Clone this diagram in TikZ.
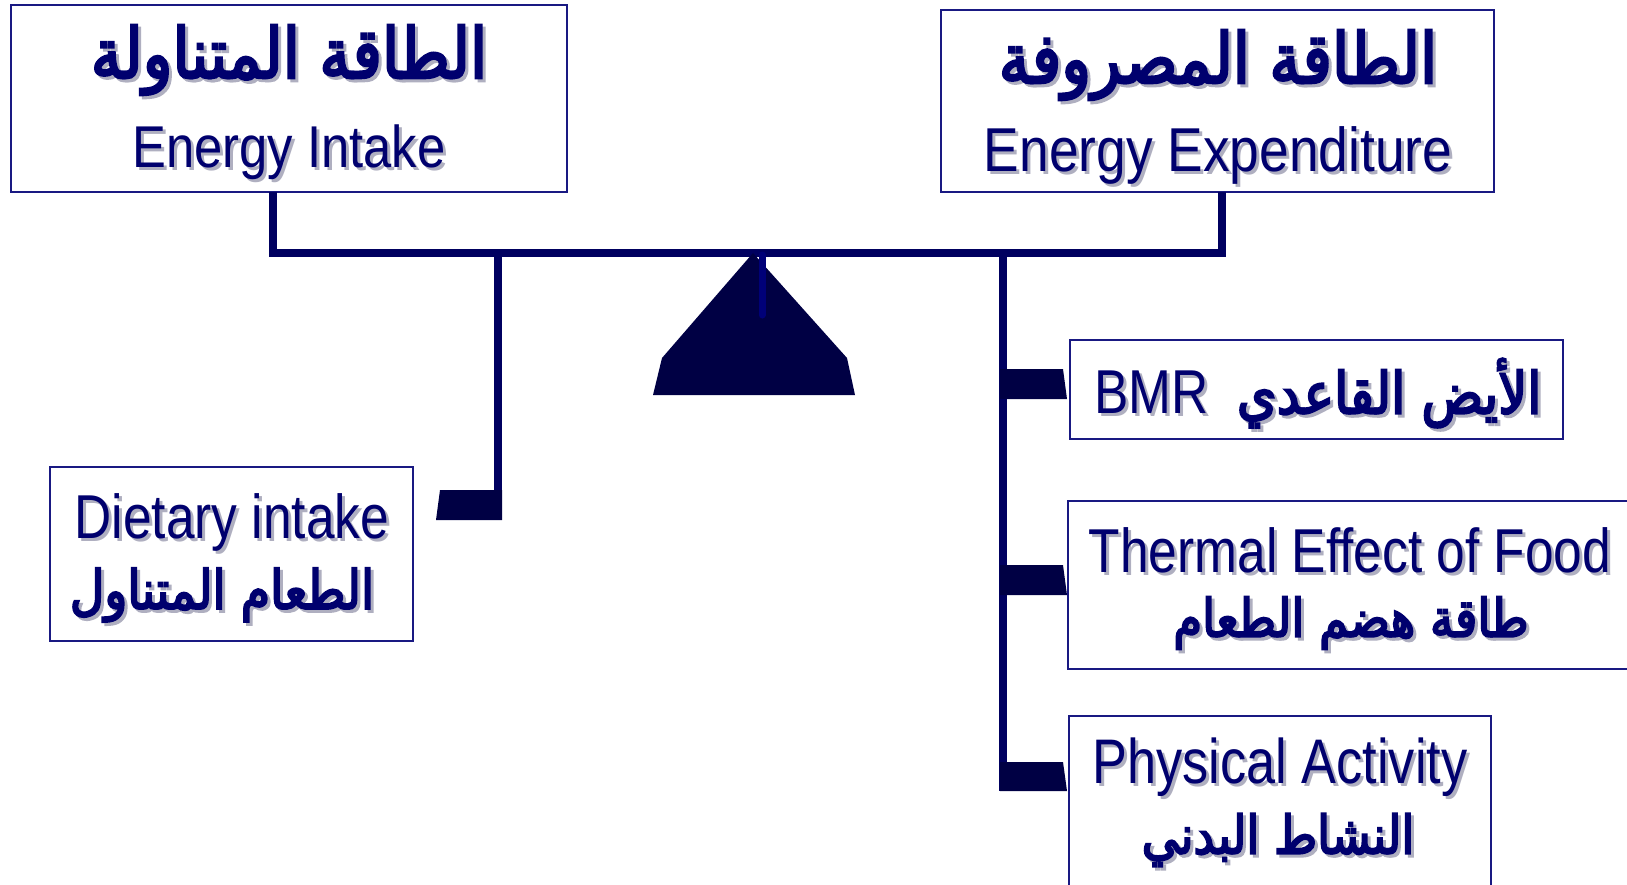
\documentclass[tikz,border=0pt]{standalone}
\usepackage{fontspec}
\setmainfont{Liberation Sans}
\newfontfamily\engT[FakeStretch=0.86]{Liberation Sans}
\newfontfamily\engB[FakeStretch=0.83]{Liberation Sans}
\newfontfamily\arabicfont[Script=Arabic,FakeBold=3.5,FakeStretch=0.88]{DejaVu Sans}
\TeXXeTstate=1
\definecolor{navytxt}{RGB}{0,0,110}
\definecolor{navyline}{RGB}{0,0,96}
\definecolor{navydark}{RGB}{0,0,68}
\definecolor{navystub}{RGB}{0,0,120}
\definecolor{boxline}{RGB}{25,25,130}
\definecolor{shadowgrey}{RGB}{175,175,192}
\newcommand\shtext[4]{%
  \node[shtxt,font=#3,xshift=3pt,yshift=-3pt] (#1s) at (#2) {#4};
  \node[txt,font=#3] (#1) at (#2) {#4};}
\begin{document}
\begin{tikzpicture}[x=1pt,y=-1pt,
  boxst/.style={draw=boxline,line width=2pt,fill=white,inner sep=0pt,outer sep=0pt},
  txt/.style={text=navytxt,inner sep=0pt},
  shtxt/.style={text=shadowgrey,inner sep=0pt},
  beam/.style={draw=navyline,line width=8pt},
  tab/.style={fill=navydark},
  ]
\useasboundingbox (0,0) rectangle (1627,884);
\clip (0,0) rectangle (1627,884);
% boxes
\node[boxst,minimum width=556pt,minimum height=187pt] (intake) at (289,98.5) {};
\node[boxst,minimum width=553pt,minimum height=182pt] (expend) at (1217.5,101) {};
\node[boxst,minimum width=363pt,minimum height=174pt] (diet) at (231.5,554) {};
\node[boxst,minimum width=493pt,minimum height=99pt] (bmr) at (1316.5,389.5) {};
\node[boxst,minimum width=580pt,minimum height=168pt] (tef) at (1358,585) {};
\node[boxst,minimum width=422pt,minimum height=190pt] (pa) at (1280,811) {};
% beam
\coordinate (bl) at (273,253);
\coordinate (br) at (1222,253);
\draw[beam,line join=miter] (intake.south -| bl) -- (bl) -- (br) -- (expend.south -| br);
% fulcrum
\coordinate (apex) at (753,253);
\fill[navydark] (apex) -- (847,358) -- (855,395) -- (653,395) -- (662,358) -- cycle;
\coordinate (stubA) at (762,255);
\coordinate (stubB) at (762,315);
\draw[draw=navystub,line width=7pt,line cap=round] (stubA) -- (stubB);
% left hanger
\coordinate (lh) at (498,253);
\coordinate (lhb) at (498,520);
\draw[beam] (lh) -- (lhb);
\fill[tab] (502,490) -- (440,490) -- (436,520) -- (502,520) -- cycle;
% right hanger
\coordinate (rh) at (1003,253);
\coordinate (rhb) at (1003,791);
\draw[beam] (rh) -- (rhb);
\fill[tab] (1000,369) -- (1063,369) -- (1067,399) -- (1000,399) -- cycle;
\fill[tab] (1000,565) -- (1063,565) -- (1067,595) -- (1000,595) -- cycle;
\fill[tab] (1000,762) -- (1063,762) -- (1067,791) -- (1000,791) -- cycle;
% texts
\shtext{tA}{289,60}{\arabicfont\fontsize{70}{74}\selectfont}{\beginR الطاقة المتناولة\endR}
\shtext{tB}{289,152}{\engT\fontsize{59}{60}\selectfont}{Energy Intake}
\shtext{tC}{1218,65}{\arabicfont\fontsize{70}{74}\selectfont}{\beginR الطاقة المصروفة\endR}
\shtext{tD}{1218,155}{\engT\fontsize{62}{64}\selectfont}{Energy Expenditure}
\shtext{tE}{232,522}{\engB\fontsize{62}{64}\selectfont}{Dietary intake}
\shtext{tF}{222,595}{\arabicfont\fontsize{54}{58}\selectfont}{\beginR الطعام المتناول\endR}
\shtext{tG}{1318,393}{\engB\fontsize{62}{64}\selectfont}{\beginR{\arabicfont\fontsize{58}{60}\selectfont الأيض القاعدي}\hspace{28pt}\beginL BMR\endL\endR}
\shtext{tH}{1350,550}{\engB\fontsize{62}{64}\selectfont}{Thermal Effect of Food}
\shtext{tI}{1351,623}{\arabicfont\fontsize{53}{58}\selectfont}{\beginR طاقة هضم الطعام\endR}
\shtext{tJ}{1280,767}{\engB\fontsize{63}{64}\selectfont}{Physical Activity}
\shtext{tK}{1278,840}{\arabicfont\fontsize{53}{58}\selectfont}{\beginR النشاط البدني\endR}
\end{tikzpicture}
\end{document}
